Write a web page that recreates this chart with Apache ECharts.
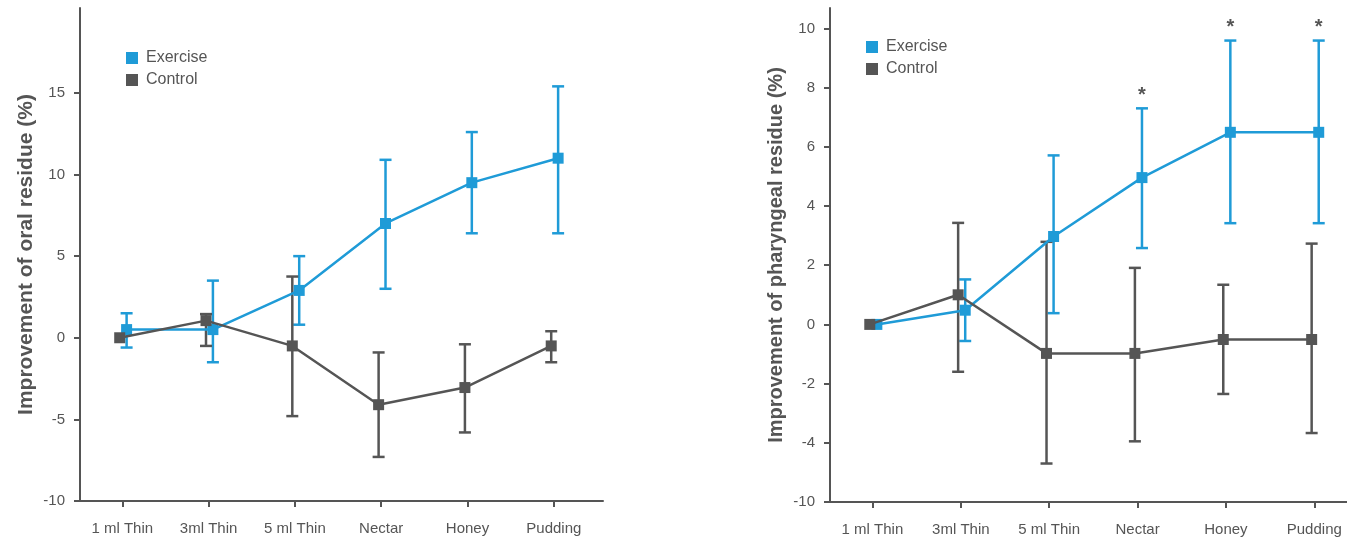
<!DOCTYPE html>
<html>
<head>
<meta charset="utf-8">
<script src="https://cdn.jsdelivr.net/npm/echarts@6/dist/echarts.min.js"></script>
<style>
  html, body { margin: 0; padding: 0; background: #fff; }
  #chart { width: 1347px; height: 539px; }
</style>
</head>
<body>
<div id="chart"></div>
<script>
// ---- Data ----
const categories = ['1 ml Thin', '3ml Thin', '5 ml Thin', 'Nectar', 'Honey', 'Pudding'];
const seriesNames = ['Exercise', 'Control'];

// Oral residue (left panel)
const oralExercise     = [0.5, 0.5, 2.9, 7.0, 9.5, 11.0];
const oralExerciseLow  = [-0.6, -1.5, 0.8, 3.0, 6.4, 6.4];
const oralExerciseHigh = [1.5, 3.5, 5.0, 10.9, 12.6, 15.4];
const oralControl      = [0, 1.05, -0.5, -4.1, -3.05, -0.5];
const oralControlLow   = [null, -0.5, -4.8, -7.3, -5.8, -1.5];
const oralControlHigh  = [null, 1.45, 3.75, -0.9, -0.4, 0.4];
const oralTicks = [-10, -5, 0, 5, 10, 15];

// Pharyngeal residue (right panel)
const pharExercise     = [0, 0.48, 2.97, 4.96, 6.49, 6.49];
const pharExerciseLow  = [null, -0.56, 0.38, 2.58, 3.42, 3.42];
const pharExerciseHigh = [null, 1.52, 5.71, 7.30, 9.59, 9.59];
const pharControl      = [0, 1.0, -0.98, -0.98, -0.51, -0.51];
const pharControlLow   = [null, -1.6, -4.70, -3.95, -2.35, -3.67];
const pharControlHigh  = [null, 3.43, 2.79, 1.91, 1.34, 2.73];
const pharSignificance = ['', '', '', '*', '*', '*'];
const pharTicks = [-6, -4, -2, 0, 2, 4, 6, 8, 10];
const pharTickLabels = ['-10', '-4', '-2', '0', '2', '4', '6', '8', '10'];

// ---- Styles ----
const BLUE = '#1f9bd7';
const GRAY = '#555555';
const TEXT = '#555555';
const FONT = '"Liberation Sans", Arial, sans-serif';
const DODGE = { Exercise: 0.05, Control: -0.03 };

function pts(vals, dodge) {
  return vals.map((v, i) => [i + dodge, v]);
}
function bars(lo, hi, dodge) {
  const out = [];
  lo.forEach((l, i) => { if (l != null && hi[i] != null) out.push([i + dodge, l, hi[i]]); });
  return out;
}
function errRender(color) {
  return function (params, api) {
    const x = api.value(0), lo = api.value(1), hi = api.value(2);
    const a = api.coord([x, lo]), b = api.coord([x, hi]);
    const w = 6;
    const style = { stroke: color, lineWidth: 2.5 };
    return {
      type: 'group',
      children: [
        { type: 'line', shape: { x1: a[0], y1: a[1], x2: b[0], y2: b[1] }, style },
        { type: 'line', shape: { x1: a[0] - w, y1: a[1], x2: a[0] + w, y2: a[1] }, style },
        { type: 'line', shape: { x1: b[0] - w, y1: b[1], x2: b[0] + w, y2: b[1] }, style }
      ]
    };
  };
}

function xAxis(gridIndex, min, max) {
  return {
    type: 'value', gridIndex, min, max,
    splitLine: { show: false },
    axisLine: { onZero: false, lineStyle: { color: GRAY, width: 2 } },
    axisTick: { length: 6, lineStyle: { color: GRAY, width: 2 }, customValues: categories.map((c, i) => i) },
    axisLabel: {
      customValues: categories.map((c, i) => i),
      formatter: v => categories[Math.round(v)],
      color: TEXT, fontSize: 15, fontFamily: FONT, margin: 20
    }
  };
}
function yAxis(gridIndex, min, max, ticks, labels, name, nameSize, nameGap) {
  return {
    type: 'value', gridIndex, min, max,
    name, nameLocation: 'middle', nameGap,
    nameTextStyle: { color: TEXT, fontSize: nameSize, fontWeight: 'bold', fontFamily: FONT },
    splitLine: { show: false },
    axisLine: { show: true, onZero: false, lineStyle: { color: GRAY, width: 2 } },
    axisTick: { show: true, length: 6, lineStyle: { color: GRAY, width: 2 }, customValues: ticks },
    axisLabel: {
      customValues: ticks,
      formatter: v => { const k = ticks.indexOf(v); return labels ? labels[k] : String(v); },
      color: TEXT, fontSize: 15, fontFamily: FONT, margin: 15
    }
  };
}

function lineSeries(name, data, xi, color, z) {
  return {
    type: 'line', name, xAxisIndex: xi, yAxisIndex: xi,
    data, symbol: 'rect', symbolSize: 11, z,
    lineStyle: { color, width: 2.5 }, itemStyle: { color },
    animation: false
  };
}
function errSeries(name, data, xi, color) {
  return {
    type: 'custom', name, xAxisIndex: xi, yAxisIndex: xi,
    data, renderItem: errRender(color), encode: { x: 0, y: [1, 2] }, z: 1,
    animation: false, silent: true
  };
}

const starData = [];
pharSignificance.forEach((s, i) => { if (s) starData.push([i + DODGE.Exercise, pharExerciseHigh[i], s]); });

function legend(left, top) {
  return {
    left, top, orient: 'vertical', padding: 0, itemGap: 6,
    icon: 'rect', itemWidth: 12, itemHeight: 12,
    textStyle: { color: TEXT, fontSize: 16, fontFamily: FONT, padding: [0, 0, 0, 3] },
    data: [{ name: 'Exercise', itemStyle: { color: BLUE } }, { name: 'Control', itemStyle: { color: GRAY } }]
  };
}

const option = {
  backgroundColor: '#ffffff',
  animation: false,
  textStyle: { fontFamily: FONT },
  grid: [
    { left: 80, top: 8, width: 523, height: 493 },
    { left: 830, top: 8, width: 517, height: 494 }
  ],
  legend: [legend(126, 50), legend(866, 39)],
  xAxis: [xAxis(0, -0.49, 5.57), xAxis(1, -0.48, 5.37)],
  yAxis: [
    yAxis(0, -10, 20.2, oralTicks, null, 'Improvement of oral residue (%)', 21, 43),
    yAxis(1, -6, 10.69, pharTicks, pharTickLabels, 'Improvement of pharyngeal residue (%)', 20, 44)
  ],
  series: [
    errSeries('Exercise', bars(oralExerciseLow, oralExerciseHigh, DODGE.Exercise), 0, BLUE),
    errSeries('Control', bars(oralControlLow, oralControlHigh, DODGE.Control), 0, GRAY),
    lineSeries('Exercise', pts(oralExercise, DODGE.Exercise), 0, BLUE, 2),
    lineSeries('Control', pts(oralControl, DODGE.Control), 0, GRAY, 3),

    errSeries('Exercise', bars(pharExerciseLow, pharExerciseHigh, DODGE.Exercise), 1, BLUE),
    errSeries('Control', bars(pharControlLow, pharControlHigh, DODGE.Control), 1, GRAY),
    lineSeries('Exercise', pts(pharExercise, DODGE.Exercise), 1, BLUE, 2),
    lineSeries('Control', pts(pharControl, DODGE.Control), 1, GRAY, 3),
    {
      type: 'custom', name: 'sig', xAxisIndex: 1, yAxisIndex: 1, data: starData,
      encode: { x: 0, y: 1 }, z: 4, animation: false, silent: true,
      renderItem: function (params, api) {
        const p = api.coord([api.value(0), api.value(1)]);
        return {
          type: 'text',
          style: {
            text: pharSignificance[Math.round(api.value(0))], x: p[0], y: p[1] - 3,
            textAlign: 'center', textVerticalAlign: 'bottom',
            fontSize: 20, fontWeight: 'bold', fontFamily: FONT, fill: TEXT
          }
        };
      }
    }
  ]
};

const chart = echarts.init(document.getElementById('chart'), null, { renderer: 'canvas' });
chart.setOption(option);
</script>
</body>
</html>
